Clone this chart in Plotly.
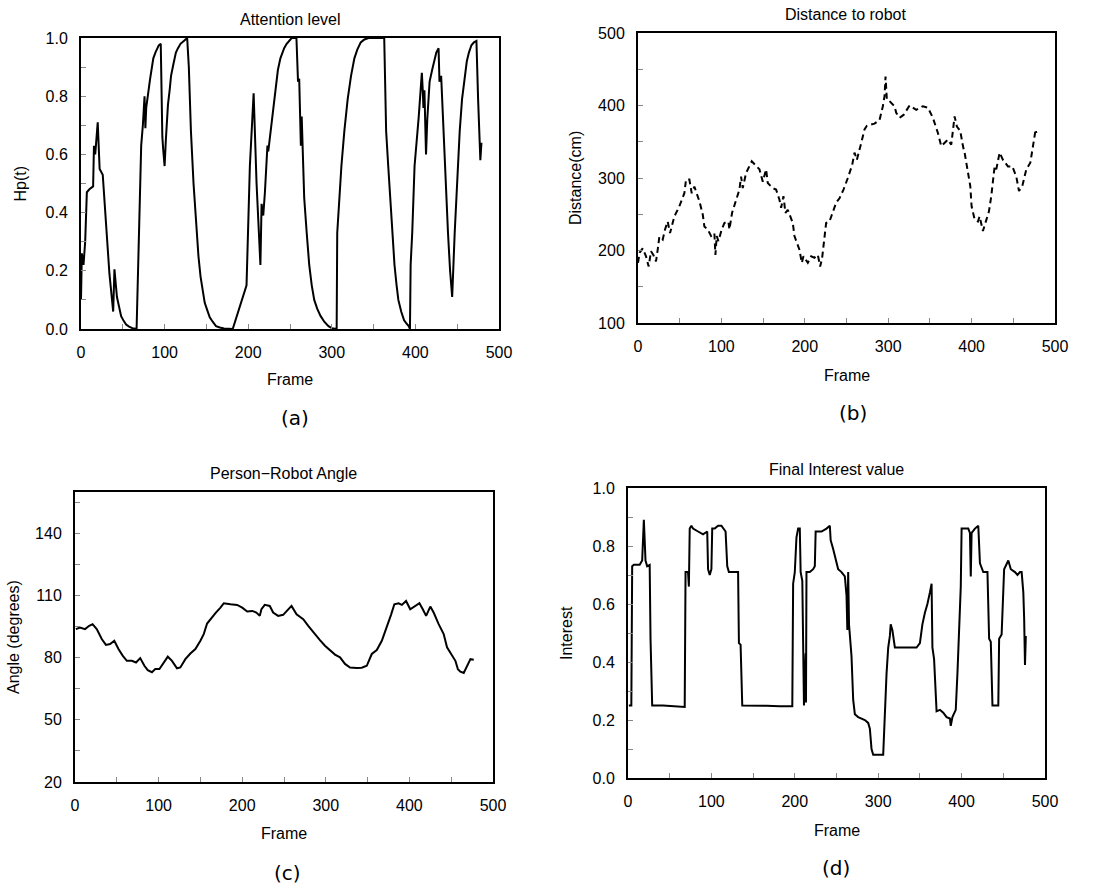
import plotly.graph_objects as go

# ---------------- data ----------------
# (a) Attention level
att_frame = [0, 1, 3, 5, 7, 10, 14.5, 15.5, 17, 18, 20, 22.3, 26, 30, 34, 38.5, 40, 43, 46, 48, 51, 54, 57.5,
             61.5, 66.5,
             69, 72, 74, 76, 77, 78, 82.7, 84.5, 86.5, 89, 91.5, 93, 95.4, 97.3, 98.5, 100, 101.5, 104, 106,
             107.7, 110.5, 113.5, 116, 119, 123, 127,
             129, 131.5, 134.6, 138.5, 140.5, 143, 145.5, 148, 151, 154, 157.5, 161.5, 166, 171, 181.5, 198,
             202, 206.5, 210, 214.6, 216, 218, 220, 222, 223, 224, 227.7, 232.7, 235.5, 238.5, 241, 243, 246,
             249, 252, 257.7, 259.6, 261, 262, 263, 264, 267, 270, 273, 276, 279, 282.5, 286.5, 291, 296, 300,
             303.8, 305.8, 306.5, 309, 311.5, 315, 319, 323, 327, 330.5, 334.6, 339, 344, 362.7, 365, 367.5,
             370, 372.5, 375, 377.5, 379.6, 383, 386.5, 389, 392, 393.5, 394.3, 396.2, 399, 404, 407.7, 408.8,
             409.6, 410.8, 412.7, 414.2, 415.5, 417, 420, 423, 425, 427.7, 428.8, 430.8, 432, 435, 437, 439,
             441.5, 444, 447, 449, 450.8, 453, 455.8, 458.5, 461.5, 464, 467, 470, 473, 475, 477.7, 479]
att_value = [0.10, 0.26, 0.22, 0.30, 0.47, 0.48, 0.49, 0.63, 0.60, 0.64, 0.71, 0.55, 0.53, 0.36, 0.19, 0.06,
             0.205, 0.11, 0.07, 0.044, 0.028, 0.015, 0.008, 0.003, 0.0,
             0.33, 0.63, 0.70, 0.80, 0.69, 0.76, 0.86, 0.90, 0.93, 0.95, 0.97, 0.975, 0.98, 0.66, 0.61, 0.56,
             0.65, 0.77, 0.82, 0.87, 0.91, 0.95, 0.965, 0.98, 0.99, 1.0,
             0.90, 0.68, 0.50, 0.33, 0.25, 0.18, 0.13, 0.09, 0.065, 0.04, 0.025, 0.01, 0.005, 0.002, 0.0, 0.15,
             0.56, 0.81, 0.50, 0.22, 0.43, 0.39, 0.47, 0.56, 0.63, 0.61, 0.70, 0.83, 0.89, 0.93, 0.95, 0.965,
             0.98, 0.99, 1.0, 1.0, 0.85, 0.86, 0.73, 0.63, 0.73, 0.45, 0.33, 0.22, 0.15, 0.10, 0.07, 0.045,
             0.025, 0.01, 0.003, 0.0, 0.0, 0.33, 0.45, 0.56, 0.68, 0.79, 0.87, 0.93, 0.96, 0.985, 0.995, 1.0,
             1.0, 0.68, 0.56, 0.45, 0.33, 0.22, 0.15, 0.10, 0.06, 0.03, 0.02, 0.01, 0.0, 0.22, 0.33, 0.56,
             0.73, 0.88, 0.82, 0.76, 0.82, 0.60, 0.72, 0.80, 0.85, 0.89, 0.93, 0.95, 0.965, 0.85, 0.87, 0.79,
             0.56, 0.45, 0.33, 0.20, 0.11, 0.33, 0.45, 0.56, 0.68, 0.79, 0.86, 0.92, 0.95, 0.975, 0.985, 0.99,
             0.79, 0.58, 0.64]

# (b) Distance to robot
dist_frame = [0, 2, 5.6, 9.6, 12.8, 15.6, 18.4, 21.6, 23.6, 25.6, 29.6, 32.4, 35.6, 38.4, 43.6, 49.6, 55.6,
              57.6, 61.6, 64.4, 67.6, 70.4, 73.6, 77.6, 79.6, 83.6, 87.6, 91.6, 92.8, 94.4, 96.4, 100.4, 103.6,
              108.4, 109.6, 112.8, 117.6, 121.6, 123.6, 125.6, 129.6, 136.4, 145.6, 149.6, 153.6, 155.6, 161.6,
              165.6, 169.6, 171.6, 174.4, 176.8, 179.6, 185.6, 187.6, 193.6, 196.4, 198.4, 203.6, 207.6, 211.6,
              215.6, 218.4, 220.8, 222.4, 225.6, 229.6, 233.6, 237.6, 241.6, 246.4, 251.6, 256.8, 259.6, 262.4,
              267.6, 271.6, 274.4, 283.6, 289.6, 293.6, 295.6, 296.8, 298.4, 301.6, 307.6, 309.6, 313.6, 318.4,
              325.6, 333.6, 341.6, 347.6, 353.6, 359.6, 363.6, 367.6, 371.6, 375.6, 379.6, 382.4, 386.4, 389.6,
              391.6, 394.4, 398.4, 400, 403.6, 407.6, 409.6, 413.6, 417.6, 420.8, 423.6, 427.6, 429.6, 433.6,
              437.6, 443.6, 448.8, 453.6, 456.8, 460.8, 465.6, 470.4, 473.6, 476.8, 477.6]
dist_value = [183, 197, 203, 192, 178, 199, 194, 185, 201, 219, 215, 229, 240, 224, 247, 261, 279, 298, 298,
              279, 288, 279, 268, 250, 233, 229, 220, 224, 194, 220, 213, 229, 238, 240, 229, 252, 270, 284,
              302, 286, 307, 323, 312, 295, 312, 293, 286, 284, 270, 259, 275, 252, 256, 238, 220, 201, 183,
              192, 183, 192, 190, 194, 178, 190, 206, 238, 240, 252, 266, 272, 284, 300, 318, 335, 325, 348,
              367, 372, 375, 380, 399, 413, 440, 408, 406, 399, 390, 383, 387, 400, 394, 399, 397, 383, 362,
              344, 348, 353, 346, 385, 371, 365, 344, 335, 316, 289, 261, 243, 240, 247, 227, 243, 254, 275,
              316, 312, 335, 325, 316, 316, 302, 282, 289, 312, 321, 344, 367, 362]

# (c) Person-Robot Angle
ang_frame = [1, 6, 12, 17, 21, 26, 32, 37, 42, 47, 52, 57, 62, 68, 73, 78, 83, 87, 92, 96, 101, 106, 111,
             116, 122, 126, 132, 138, 144, 150, 154, 158, 162, 168, 174, 178, 186, 194, 200, 206, 212, 217,
             221, 223, 227, 233, 237, 243, 249, 254, 259, 265, 273, 279, 285, 293, 299, 305, 311, 317, 323,
             329, 337, 343, 349, 355, 361, 367, 373, 378, 382, 387, 391, 396, 401, 407, 412, 416, 420, 425,
             429, 435, 441, 445, 451, 455, 458, 461, 465, 469, 473, 477]
ang_value = [93.8, 94.6, 93.8, 95.4, 96.2, 93.8, 89.0, 86.2, 86.6, 88.2, 84.2, 81.0, 78.5, 78.5, 77.7, 79.8,
             76.1, 74.0, 73.0, 74.5, 74.5, 77.7, 80.5, 78.5, 74.9, 75.3, 79.3, 82.0, 84.2, 88.2, 91.4, 96.5,
             98.6, 101.5, 104.2, 106.3, 105.8, 105.5, 104.2, 102.3, 102.6, 101.8, 100.2, 103.4, 105.5, 105.0,
             101.8, 100.2, 100.7, 102.6, 105.0, 101.0, 98.6, 95.4, 92.2, 88.5, 85.8, 83.4, 81.5, 80.2, 77.0,
             75.3, 75.0, 75.2, 76.1, 81.8, 83.7, 88.2, 94.6, 100.7, 105.8, 106.3, 105.5, 107.4, 103.4, 105.0,
             106.3, 103.4, 100.2, 104.7, 101.8, 96.2, 91.4, 85.0, 81.0, 78.5, 74.5, 73.3, 72.6, 76.1, 79.3, 79.0]

# (d) Final Interest value
int_frame = [1, 4, 5, 7, 14, 17, 19, 21, 23, 26, 27, 29, 42, 58, 68, 69, 72, 73, 74, 76, 78, 84, 90, 95, 96,
             98, 100, 101, 104, 108, 112, 117, 119, 121, 124, 130, 132, 133, 135, 137, 150, 166, 182, 197, 198,
             200, 202, 204, 206, 207, 209, 211, 213, 213.4, 214, 218, 222, 224, 225, 232, 238, 242, 243, 246,
             252, 256, 260, 262, 263, 264, 265, 268, 270, 272, 276, 284, 288, 290, 292, 294, 306, 308, 310,
             312, 314, 315, 317, 320, 326, 334, 346, 350, 353, 356, 359, 362, 364, 365, 367, 370, 374, 378,
             382, 386, 387, 389, 393, 395, 396, 399, 400, 408, 410, 411, 412, 416, 420, 422, 426, 431, 433,
             435, 437, 444, 445, 448, 451, 454, 456, 459, 464, 467, 470, 472, 474, 475, 476, 477]
int_value = [0.25, 0.25, 0.73, 0.735, 0.735, 0.75, 0.89, 0.75, 0.73, 0.735, 0.48, 0.25, 0.25, 0.248, 0.245,
             0.71, 0.71, 0.66, 0.86, 0.87, 0.86, 0.85, 0.84, 0.85, 0.72, 0.70, 0.72, 0.86, 0.86, 0.87, 0.87,
             0.85, 0.73, 0.71, 0.71, 0.71, 0.71, 0.465, 0.46, 0.25, 0.25, 0.249, 0.247, 0.247, 0.67, 0.71,
             0.83, 0.86, 0.86, 0.71, 0.68, 0.25, 0.43, 0.26, 0.71, 0.71, 0.72, 0.73, 0.85, 0.85, 0.86, 0.87,
             0.82, 0.79, 0.72, 0.71, 0.695, 0.63, 0.51, 0.71, 0.53, 0.42, 0.27, 0.22, 0.21, 0.20, 0.19, 0.17,
             0.10, 0.08, 0.08, 0.25, 0.36, 0.45, 0.49, 0.53, 0.51, 0.45, 0.45, 0.45, 0.45, 0.465, 0.53, 0.57,
             0.60, 0.64, 0.67, 0.45, 0.41, 0.23, 0.235, 0.225, 0.21, 0.205, 0.18, 0.21, 0.235, 0.36, 0.43,
             0.66, 0.86, 0.86, 0.845, 0.695, 0.845, 0.86, 0.87, 0.74, 0.71, 0.71, 0.48, 0.47, 0.25, 0.25,
             0.48, 0.495, 0.72, 0.74, 0.75, 0.72, 0.71, 0.70, 0.71, 0.71, 0.64, 0.55, 0.39, 0.49]

titles = ["Attention level", "Distance to robot", "Person\u2212Robot Angle", "Final Interest value"]
ytitles = ["Hp(t)", "Distance(cm)", "Angle (degrees)", "Interest"]
captions = ["(a)", "(b)", "(c)", "(d)"]

# ---------------- layout helpers ----------------
W, H = 1093, 893
def px(x):
    return x / W
def py(y):
    return 1 - y / H

# plot boxes in window pixels: left, right, top, bottom
boxes = [(81, 499, 38, 329), (638, 1055, 33, 323), (75, 493, 492, 782), (628, 1045, 488, 778)]
title_y = [20, 14, 473, 469]
title_x = [290, 846, 283, 836]
frame_y = [380, 375, 833, 830]
ylab_x = [20, 576, 13, 566]
cap_xy = [(295, 418), (853, 413), (287, 873), (836, 868)]
yranges = [[0, 1], [100, 500], [20, 160], [0, 1]]
ydticks = [0.2, 100, 30, 0.2]
yminor = [0.1, 50, 15, 0.1]
ytick0 = [0, 100, 20, 0]
ytickfmt = [".1f", "d", "d", ".1f"]

FONT = "Liberation Sans, Arial, sans-serif"

fig = go.Figure()
series = [(att_frame, att_value, "solid"), (dist_frame, dist_value, "6px,4px"),
          (ang_frame, ang_value, "solid"), (int_frame, int_value, "solid")]
for i, (xs, ys, dash) in enumerate(series):
    sfx = "" if i == 0 else str(i + 1)
    fig.add_trace(go.Scatter(x=xs, y=ys, mode="lines", xaxis="x" + sfx, yaxis="y" + sfx,
                             line=dict(color="black", width=2, dash=dash), showlegend=False))

def ann(text, x, y, size=16, family=FONT, angle=0):
    return dict(text=text, x=px(x), y=py(y), xref="paper", yref="paper", xanchor="center",
                yanchor="middle", showarrow=False, textangle=angle,
                font=dict(family=family, size=size, color="black"))

annotations = []
for i in range(4):
    sfx = "" if i == 0 else str(i + 1)
    l, r, t, b = boxes[i]
    common = dict(showline=True, linecolor="black", linewidth=2, mirror=True, ticks="inside",
                  ticklen=5, tickcolor="#888", tickwidth=1, showgrid=False, zeroline=False,
                  automargin=False, tickfont=dict(family=FONT, size=16, color="black"))
    fig.layout["xaxis" + sfx] = dict(domain=[px(l), px(r)], anchor="y" + sfx, range=[0, 500],
                                     dtick=100, tick0=0,
                                     minor=dict(ticks="inside", dtick=50, ticklen=5, tickcolor="#888"),
                                     ticklabelstandoff=8, **common)
    fig.layout["yaxis" + sfx] = dict(domain=[py(b), py(t)], anchor="x" + sfx, range=yranges[i],
                                     dtick=ydticks[i], tick0=ytick0[i], tickformat=ytickfmt[i],
                                     minor=dict(ticks="inside", dtick=yminor[i], tick0=ytick0[i],
                                                ticklen=5, tickcolor="#888"),
                                     ticklabelstandoff=8, **common)
    annotations.append(ann(titles[i], title_x[i], title_y[i]))
    annotations.append(ann("Frame", (l + r) / 2, frame_y[i]))
    annotations.append(ann(ytitles[i], ylab_x[i], (t + b) / 2, angle=-90))
    annotations.append(ann(captions[i], cap_xy[i][0], cap_xy[i][1], size=20, family="DejaVu Sans"))

fig.update_layout(width=W, height=H, margin=dict(l=0, r=0, t=0, b=0), plot_bgcolor="white",
                  paper_bgcolor="white", annotations=annotations, hovermode=False)
# remove the browser's default 8px body margin so the figure sits at the window's corner
fig.write_html("out.html", config={"displayModeBar": False},
               post_script="document.body.style.margin='0px';")
